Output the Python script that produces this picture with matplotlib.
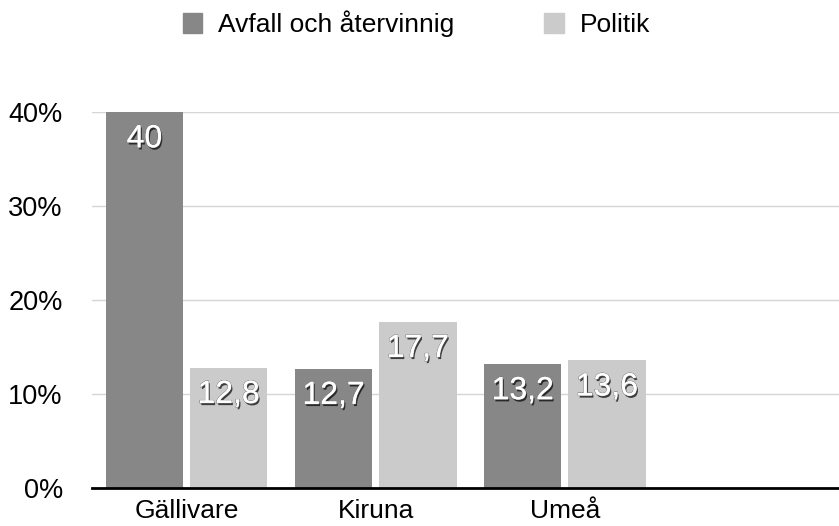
import matplotlib.pyplot as plt
import matplotlib.patheffects as pe
from matplotlib.patches import Patch
import numpy as np

plt.rcParams['font.family'] = ['Liberation Sans', 'DejaVu Sans']

categories = ['Gällivare', 'Kiruna', 'Umeå']
series_names = ['Avfall och återvinnig', 'Politik']
avfall = [40, 12.7, 13.2]
politik = [12.8, 17.7, 13.6]
value_labels = [['40', '12,7', '13,2'], ['12,8', '17,7', '13,6']]
yticks = [0, 10, 20, 30, 40]
colors = ['#878787', '#cbcbcb']

fig = plt.figure(figsize=(8.39, 5.26), dpi=100)
ax = fig.add_axes([92 / 839, 38 / 526, 747 / 839, (488 - 112) / 526])

x = np.arange(len(categories))
w = 0.41
txt_fx = [pe.SimplePatchShadow(offset=(1.0, -1.6), shadow_rgbFace='black', alpha=0.7),
          pe.withStroke(linewidth=0.8, foreground='#777777'), pe.Normal()]
for i, vals in enumerate([avfall, politik]):
    pos = x + (i - 0.5) * 0.445
    ax.bar(pos, vals, width=w, color=colors[i], zorder=2)
    for p, v, lab in zip(pos, vals, value_labels[i]):
        ax.text(p, v - 1.3, lab, ha='center', va='top', color='white', fontsize=23,
                zorder=3, path_effects=txt_fx)

ax.set_xlim(-0.5, 3.45)
ax.set_ylim(0, 40)
ax.set_yticks(yticks)
ax.set_yticklabels([f'{t}%' for t in yticks], fontsize=19.5)
ax.set_xticks(x)
ax.set_xticklabels(categories, fontsize=19)
ax.tick_params(axis='both', length=0)
ax.tick_params(axis='x', pad=8)
ax.tick_params(axis='y', pad=21)
ax.yaxis.grid(True, color='#d6d6d6', linewidth=1, zorder=0)
for s in ['top', 'right', 'left']:
    ax.spines[s].set_visible(False)
ax.spines['bottom'].set_linewidth(2)
ax.spines['bottom'].set_zorder(4)

handles = [Patch(color=c) for c in colors]
fig.legend(handles, series_names, loc='upper left', bbox_to_anchor=(172 / 839, 1.0), ncol=2,
           frameon=False, fontsize=19, handlelength=0.75, handleheight=0.75,
           handletextpad=0.6, columnspacing=3.4, borderaxespad=0.0)

fig.savefig('out.png', dpi=100)
